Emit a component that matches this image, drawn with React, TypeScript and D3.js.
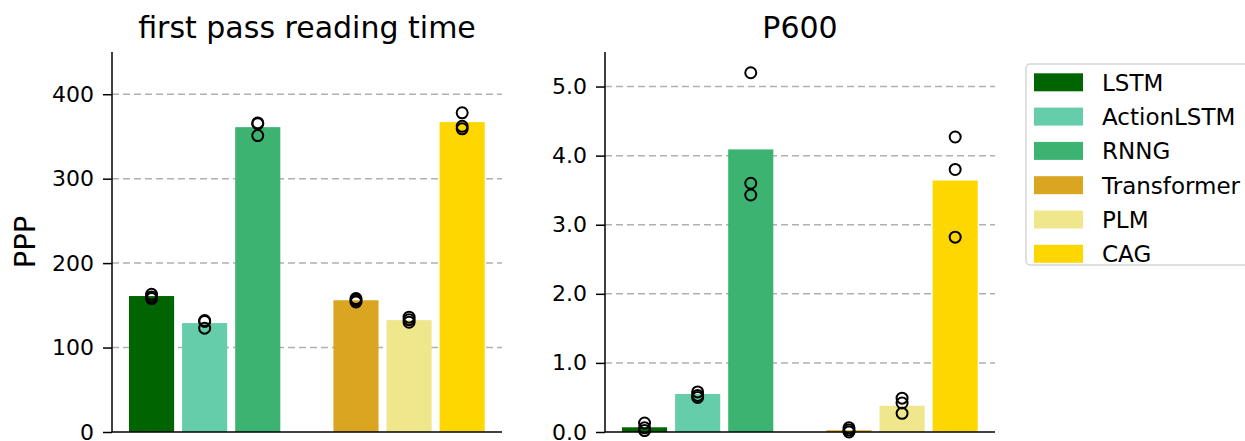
import React, { useEffect, useRef } from 'react'
import * as d3 from 'd3'

// Models and colours
const models = ['LSTM', 'ActionLSTM', 'RNNG', 'Transformer', 'PLM', 'CAG']
const colors = ['#006400', '#66cdaa', '#3cb371', '#daa520', '#f0e68c', '#ffd700']

// first pass reading time: bar means and per-seed points
const fprtMeans = [161, 129, 361, 156, 132.5, 367]
const fprtSeeds = [
    [163, 160, 158],
    [132, 131, 123],
    [366, 365, 351],
    [158, 156, 154],
    [136, 133, 130],
    [378, 362, 359],
]
const fprtTicks = [0, 100, 200, 300, 400]

// P600: bar means and per-seed points
const p600Means = [0.068, 0.55, 4.09, 0.025, 0.38, 3.64]
const p600Seeds = [
    [0.13, 0.06, 0.02],
    [0.58, 0.53, 0.5],
    [5.2, 3.6, 3.43],
    [0.06, 0.03, 0.0],
    [0.49, 0.42, 0.27],
    [4.27, 3.8, 2.82],
]
const p600Ticks = [0, 1, 2, 3, 4, 5]

const FONT = 'DejaVu Sans'

function drawPanel(svg, opts) {
    const { left, right, top, bottom, title, yMax, ticks, fmt, means, seeds, ylabel } = opts

    // slot positions: two groups of three with a gap between
    const slots = models.map((m, i) => (i < 3 ? i : i + 0.85))
    const x = d3.scaleLinear().domain([-0.745, 6.6]).range([left, right])
    const y = d3.scaleLinear().domain([0, yMax]).range([bottom, top])
    const bw = x(0.85) - x(0)

    const g = svg.append('g')

    // grid
    g.selectAll('.grid')
        .data(ticks.filter(t => t > 0))
        .enter()
        .append('line')
        .attr('x1', left)
        .attr('x2', right)
        .attr('y1', d => y(d))
        .attr('y2', d => y(d))
        .style('stroke', '#b0b0b0')
        .style('stroke-width', 1.5)
        .style('stroke-dasharray', '7,4')

    // bars
    g.selectAll('.bar')
        .data(means)
        .enter()
        .append('rect')
        .attr('x', (d, i) => x(slots[i]) - bw / 2)
        .attr('width', bw)
        .attr('y', d => y(d))
        .attr('height', d => bottom - y(d))
        .attr('fill', (d, i) => colors[i])

    // seed points
    seeds.forEach((vals, i) => {
        vals.forEach(v => {
            g.append('circle')
                .attr('cx', x(slots[i]))
                .attr('cy', y(v))
                .attr('r', 5.5)
                .attr('fill', 'none')
                .attr('stroke', '#000')
                .attr('stroke-width', 2)
        })
    })

    // y axis
    const yAxis = d3.axisLeft(y).tickValues(ticks).tickFormat(fmt).tickSize(9).tickPadding(9)
    const ay = g.append('g').attr('transform', `translate(${left},0)`).call(yAxis)
    ay.select('.domain').remove()
    ay.selectAll('line').attr('stroke', '#000').attr('stroke-width', 1.5)
    ay.selectAll('text').attr('font-family', FONT).attr('font-size', 22).attr('fill', '#000')

    // spines
    g.append('line')
        .attr('x1', left).attr('x2', left)
        .attr('y1', top).attr('y2', bottom)
        .style('stroke', '#000').style('stroke-width', 1.5)
    g.append('line')
        .attr('x1', left).attr('x2', right)
        .attr('y1', bottom).attr('y2', bottom)
        .style('stroke', '#000').style('stroke-width', 1.5)

    // title
    g.append('text')
        .text(title)
        .attr('x', (left + right) / 2)
        .attr('y', 38)
        .attr('text-anchor', 'middle')
        .attr('font-family', FONT)
        .attr('font-size', 30)
        .attr('fill', '#000')

    if (ylabel) {
        g.append('text')
            .text(ylabel)
            .attr('transform', `translate(35,${(top + bottom) / 2}) rotate(-90)`)
            .attr('text-anchor', 'middle')
            .attr('font-family', FONT)
            .attr('font-size', 29)
            .attr('fill', '#000')
    }
}

export default function App() {
    const ref = useRef(null)

    useEffect(() => {
        const svg = d3.select(ref.current)
        svg.selectAll('*').remove()

        drawPanel(svg, {
            left: 112, right: 502, top: 52, bottom: 432,
            title: 'first pass reading time', yMax: 450,
            ticks: fprtTicks, fmt: d3.format('d'),
            means: fprtMeans, seeds: fprtSeeds, ylabel: 'PPP',
        })
        drawPanel(svg, {
            left: 605, right: 995, top: 52, bottom: 432,
            title: 'P600', yMax: 5.5,
            ticks: p600Ticks, fmt: d3.format('.1f'),
            means: p600Means, seeds: p600Seeds, ylabel: null,
        })

        // legend
        const lg = svg.append('g')
        lg.append('rect')
            .attr('x', 1026).attr('y', 64)
            .attr('width', 240).attr('height', 201)
            .attr('rx', 4)
            .attr('fill', '#fff')
            .attr('stroke', '#d6d6d6')
            .attr('stroke-width', 1.5)
        models.forEach((m, i) => {
            const cy = 82.3 + i * 34.3
            lg.append('rect')
                .attr('x', 1034).attr('y', cy - 9)
                .attr('width', 49).attr('height', 18)
                .attr('fill', colors[i])
            lg.append('text')
                .text(m)
                .attr('x', 1102)
                .attr('y', cy + 8.5)
                .attr('font-family', FONT)
                .attr('font-size', 23)
                .attr('fill', '#000')
        })
    }, [])

    return (
        <svg
            ref={ref}
            width={1245}
            height={441}
            style={{ position: 'absolute', left: 0, top: 0, background: '#fff' }}
        />
    )
}
